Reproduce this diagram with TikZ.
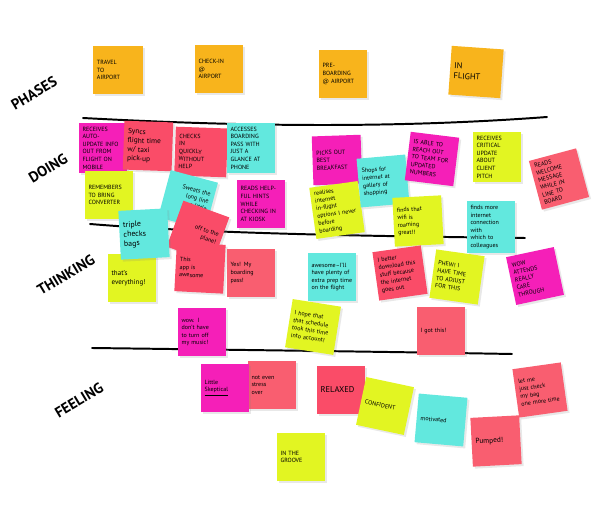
\documentclass[tikz,border=0pt]{standalone}
\usepackage{fontspec}
\setmainfont{PT Sans}
\usetikzlibrary{shadows}
\definecolor{noteorange}{HTML}{F8B41C}
\definecolor{notemagenta}{HTML}{F51FB8}
\definecolor{notecoral}{HTML}{FA4C68}
\definecolor{notesalmon}{HTML}{F95E70}
\definecolor{noteyellow}{HTML}{E2F522}
\definecolor{notecyan}{HTML}{62E8DE}
\begin{document}
\begin{tikzpicture}[x=0.025cm,y=-0.025cm,
  note/.style={minimum height=1.22cm, text width=1.02cm, inner sep=0.1cm, align=left,
    font=\fontsize{4.3}{5.4}\selectfont,
    drop shadow={shadow xshift=0.05cm, shadow yshift=-0.05cm, opacity=0.18}},
  bignote/.style={note, font=\fontsize{6}{7.2}\selectfont},
  rowlabel/.style={font=\fontsize{10.5}{12}\selectfont\bfseries, rotate=31},
  divider/.style={line width=1.4pt, line cap=round}]
\fill[white] (0,0) rectangle (600,517);
\useasboundingbox (0,0) rectangle (600,517);

\node[rowlabel] (phases) at (34,93) {PHASES};
\node[rowlabel] (doing) at (48,168) {DOING};
\node[rowlabel] (thinking) at (66,275) {THINKING};
\node[rowlabel] (feeling) at (79,400) {FEELING};

\draw[divider] (83,118) .. controls (250,127) and (400,128) .. (547,117);
\draw[divider] (90,224) .. controls (200,233) and (350,236) .. (525,238);
\draw[divider] (92,348) .. controls (250,350) and (400,352) .. (512,354);

\node[note, fill=noteorange, text width=1.05cm] (travel) at (118,70) {TRAVEL\\TO\\AIRPORT};
\node[note, fill=noteorange] (checkin) at (219,69) {CHECK-IN\\@\\AIRPORT};
\node[note, fill=noteorange] (preboard) at (343,74) {PRE-\\BOARDING\\@ AIRPORT};
\node[bignote, fill=noteorange, text width=1.1cm, rotate=-4] (inflight) at (476,72) {IN\\FLIGHT};

\node[note, fill=notemagenta] (receives) at (103,148) {RECEIVES AUTO-\\UPDATE INFO\\OUT FROM\\FLIGHT ON\\MOBILE};
\node[note, fill=notecoral, font=\fontsize{5.2}{6.4}\selectfont, rotate=-2] (syncs) at (148,146) {Syncs\\flight time\\w/ taxi\\pick-up};
\node[note, fill=notecoral, text width=1.1cm, rotate=-2] (quickly) at (201,152) {CHECKS\\IN\\QUICKLY\\WITHOUT\\HELP};
\node[note, fill=notecyan] (accesses) at (251,148) {ACCESSES\\BOARDING\\PASS WITH\\JUST A\\GLANCE AT\\PHONE};
\node[note, fill=noteyellow] (remembers) at (109,195) {REMEMBERS\\TO BRING\\CONVERTER};
\node[note, fill=notecyan, rotate=-15, align=right] (sweats) at (188,200) {Sweats the\\long line\\a little\\bit\\[9pt]};
\node[note, fill=notemagenta] (hints) at (261,204) {READS HELP-\\FUL HINTS\\WHILE\\CHECKING IN\\AT KIOSK};
\node[note, fill=notemagenta, rotate=2] (breakfast) at (337,160) {PICKS OUT\\BEST\\BREAKFAST};
\node[note, fill=noteyellow, rotate=8] (realises) at (337,210) {realises\\internet\\in-flight\\options I never\\before\\boarding};
\node[note, fill=notecyan, rotate=5] (shops) at (383,181) {Shops for\\internet at\\gallery of\\shopping};
\node[note, fill=notemagenta, rotate=-7] (team) at (432,159) {IS ABLE TO\\REACH OUT\\TO TEAM FOR\\UPDATED\\NUMBERS};
\node[note, fill=noteyellow] (critical) at (497,157) {RECEIVES\\CRITICAL\\UPDATE\\ABOUT\\CLIENT\\PITCH};
\node[note, fill=notesalmon, rotate=15] (welcome) at (559,179) {READS\\WELCOME\\MESSAGE\\WHILE IN\\LINE TO BOARD};
\node[note, fill=noteyellow, rotate=3] (wifi) at (418,221) {finds that\\wifi is\\roaming\\great!!};
\node[note, fill=notecyan] (connection) at (491,227) {finds more\\internet\\connection with\\which to\\colleagues};

\node[note, fill=noteyellow, font=\fontsize{5}{6.2}\selectfont] (everything) at (132,278) {that's\\everything!};
\node[note, fill=notecoral, rotate=-20, align=right] (plane) at (198,232) {off to the\\plane!};
\node[note, fill=notecyan, font=\fontsize{5.6}{6.8}\selectfont, rotate=3] (triple) at (144,234) {triple\\checks\\bags};
\node[note, fill=notecoral, rotate=-3] (app) at (200,268) {This\\app is\\awesome};
\node[note, fill=notesalmon] (yes) at (251,273) {Yes! My\\boarding\\pass!};
\node[note, fill=notecyan] (awesome) at (332,277) {awesome--I'll\\have plenty of\\extra prep time\\on the flight};
\node[note, fill=notecoral, rotate=8] (download) at (400,273) {I better\\download this\\stuff because\\the internet\\goes out};
\node[note, fill=noteyellow, rotate=-8] (phew) at (457,277) {PHEW! I\\HAVE TIME\\TO ADJUST\\FOR THIS};
\node[note, fill=notemagenta, rotate=12] (attends) at (535,276) {WOW\\ATTENDS\\REALLY\\CARE\\THROUGH};
\node[note, fill=noteyellow, rotate=-9] (hope) at (313,327) {I hope that\\that schedule\\took this time\\into account!};
\node[note, fill=notesalmon] (gotthis) at (441,331) {I got this!};
\node[note, fill=notemagenta] (music) at (202,332) {wow. I\\don't have\\to turn off\\my music!};

\node[note, fill=notesalmon] (stress) at (272,385) {not even\\stress\\over};
\node[note, fill=notemagenta] (skeptical) at (225,388) {Little\\\underline{Skeptical}};
\node[note, fill=notecoral, font=\fontsize{6}{7.2}\selectfont] (relaxed) at (341,390) {RELAXED};
\node[note, fill=noteyellow, rotate=-12] (confident) at (385,406) {CONFIDENT};
\node[note, fill=notecyan, rotate=-5] (motivated) at (441,420) {motivated};
\node[note, fill=notesalmon, font=\fontsize{5.2}{6.4}\selectfont, rotate=3] (pumped) at (496,441) {Pumped!};
\node[note, fill=notesalmon, rotate=8] (check) at (540,390) {let me\\just check\\my bag\\one more time};
\node[note, fill=noteyellow] (groove) at (301,457) {IN THE\\GROOVE};
\end{tikzpicture}
\end{document}
